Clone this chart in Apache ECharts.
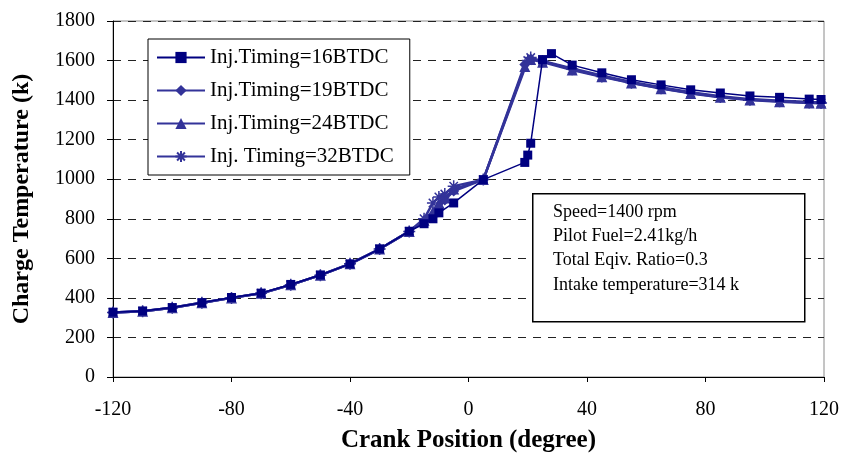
<!DOCTYPE html>
<html>
<head>
<meta charset="utf-8">
<script src="https://cdn.jsdelivr.net/npm/echarts@6/dist/echarts.min.js"></script>
<style>
  html, body { margin: 0; padding: 0; background: #fff; }
  #chart { width: 844px; height: 459px; }
</style>
</head>
<body>
<div id="chart"></div>
<script>
// crank angle (deg) and charge temperature (K) for each injection timing
const crank16 = [-120, -110, -100, -90, -80, -70, -60, -50, -40, -30, -20, -15, -12, -10, -5, 5, 19, 20, 21, 25, 28, 35, 45, 55, 65, 75, 85, 95, 105, 115, 119]
const temp16 = [328, 334, 351, 376, 402, 424, 468, 516, 572, 648, 737, 775, 800, 830, 880, 998, 1085, 1122, 1182, 1605, 1635, 1577, 1538, 1503, 1477, 1452, 1436, 1421, 1414, 1405, 1403]

const crank19 = [-120, -110, -100, -90, -80, -70, -60, -50, -40, -30, -20, -15, -12, -10, -8, -5, 5, 19, 21, 25, 35, 45, 55, 65, 75, 85, 95, 105, 115, 119]
const temp19 = [326, 333, 350, 375, 400, 423, 466, 515, 572, 647, 736, 790, 820, 855, 895, 940, 998, 1580, 1608, 1598, 1560, 1524, 1492, 1465, 1440, 1420, 1405, 1397, 1391, 1389]

const crank24 = [-120, -110, -100, -90, -80, -70, -60, -50, -40, -30, -20, -15, -12, -10, -8, -5, 5, 19, 21, 25, 35, 45, 55, 65, 75, 85, 95, 105, 115, 119]
const temp24 = [326, 333, 350, 375, 400, 423, 466, 515, 572, 647, 736, 792, 835, 880, 905, 950, 998, 1570, 1605, 1592, 1552, 1518, 1486, 1458, 1434, 1414, 1400, 1392, 1386, 1384]

const crank32 = [-120, -110, -100, -90, -80, -70, -60, -50, -40, -30, -20, -15, -12, -10, -8, -5, 5, 20, 21, 25, 35, 45, 55, 65, 75, 85, 95, 105, 115, 119]
const temp32 = [326, 333, 350, 375, 400, 423, 466, 515, 572, 647, 736, 800, 880, 910, 925, 965, 998, 1600, 1615, 1596, 1556, 1520, 1488, 1460, 1436, 1416, 1402, 1394, 1388, 1386]

const seriesNames = ['Inj.Timing=16BTDC', 'Inj.Timing=19BTDC', 'Inj.Timing=24BTDC', 'Inj. Timing=32BTDC']
const infoLines = ['Speed=1400 rpm', 'Pilot Fuel=2.41kg/h', 'Total Eqiv. Ratio=0.3', 'Intake temperature=314 k']

const serif = '"Liberation Serif", "Times New Roman", serif'
const asterisk = 'path://M0,-10L0,10M-10,0L10,0M-7,-7L7,7M-7,7L7,-7'

function pairs(xs, ys) {
  return xs.map((x, i) => [x, ys[i]])
}

function makeSeries(name, xs, ys, symbol, color, width, size, extra) {
  return Object.assign({
    name,
    type: 'line',
    data: pairs(xs, ys),
    symbol,
    symbolSize: size,
    showSymbol: true,
    lineStyle: { color, width },
    itemStyle: { color },
    emphasis: { disabled: true },
    animation: false,
  }, extra || {})
}

const chart = echarts.init(document.getElementById('chart'))
chart.setOption({
  backgroundColor: '#fff',
  grid: {
    left: 113, right: 20, top: 21, bottom: 82,
    outerBoundsMode: 'none',
    containLabel: false,
    show: true, borderColor: '#8a8a8a', borderWidth: 1,
  },
  legend: {
    orient: 'vertical',
    left: 148, top: 39,
    padding: [8, 16, 8, 8],
    itemGap: 12,
    itemWidth: 48,
    itemHeight: 14,
    backgroundColor: '#fff',
    borderColor: '#000',
    borderWidth: 1,
    borderRadius: 0,
    textStyle: { fontFamily: serif, fontSize: 21, color: '#000', lineHeight: 21 },
    data: seriesNames,
  },
  xAxis: {
    type: 'value',
    min: -120, max: 120, interval: 40,
    name: 'Crank Position (degree)',
    nameLocation: 'middle',
    nameGap: 51,
    nameTextStyle: { fontFamily: serif, fontSize: 25, fontWeight: 'bold', color: '#000' },
    axisLine: { show: true, onZero: false, lineStyle: { color: '#000', width: 1 } },
    axisTick: { show: true, length: 5, lineStyle: { color: '#000' } },
    axisLabel: { fontFamily: serif, fontSize: 20, color: '#000', margin: 23 },
    splitLine: { show: false },
  },
  yAxis: {
    type: 'value',
    min: 0, max: 1800, interval: 200,
    name: 'Charge Temperature (k)',
    nameLocation: 'middle',
    nameGap: 79,
    nameTextStyle: { fontFamily: serif, fontSize: 24, fontWeight: 'bold', color: '#000' },
    axisLine: { show: true, onZero: false, lineStyle: { color: '#000', width: 1 } },
    axisTick: { show: true, length: 6, lineStyle: { color: '#000' } },
    axisLabel: { fontFamily: serif, fontSize: 20, color: '#000', margin: 18, formatter: (v) => String(v) },
    splitLine: { show: true, lineStyle: { color: '#222', type: [8, 7], width: 1 } },
  },
  series: [
    makeSeries(seriesNames[0], crank16, temp16, 'rect', '#000080', 1.5, 9, { z: 5 }),
    makeSeries(seriesNames[1], crank19, temp19, 'diamond', '#333399', 2.5, 11),
    makeSeries(seriesNames[2], crank24, temp24, 'triangle', '#333399', 2.5, 11),
    makeSeries(seriesNames[3], crank32, temp32, asterisk, '#333399', 2.5, 12, {
      itemStyle: { color: '#333399', borderColor: '#333399', borderWidth: 1.5 },
    }),
  ],
  graphic: [
    {
      type: 'rect',
      left: 532, top: 193,
      shape: { width: 272, height: 128 },
      style: { fill: '#fff', stroke: '#000', lineWidth: 1.5 },
      z: 100,
    },
    ...infoLines.map((t, i) => ({
      type: 'text',
      left: 553, top: 203 + i * 24.3,
      style: { text: t, font: '18px ' + serif, fill: '#000' },
      z: 101,
    })),
  ],
})
</script>
</body>
</html>
